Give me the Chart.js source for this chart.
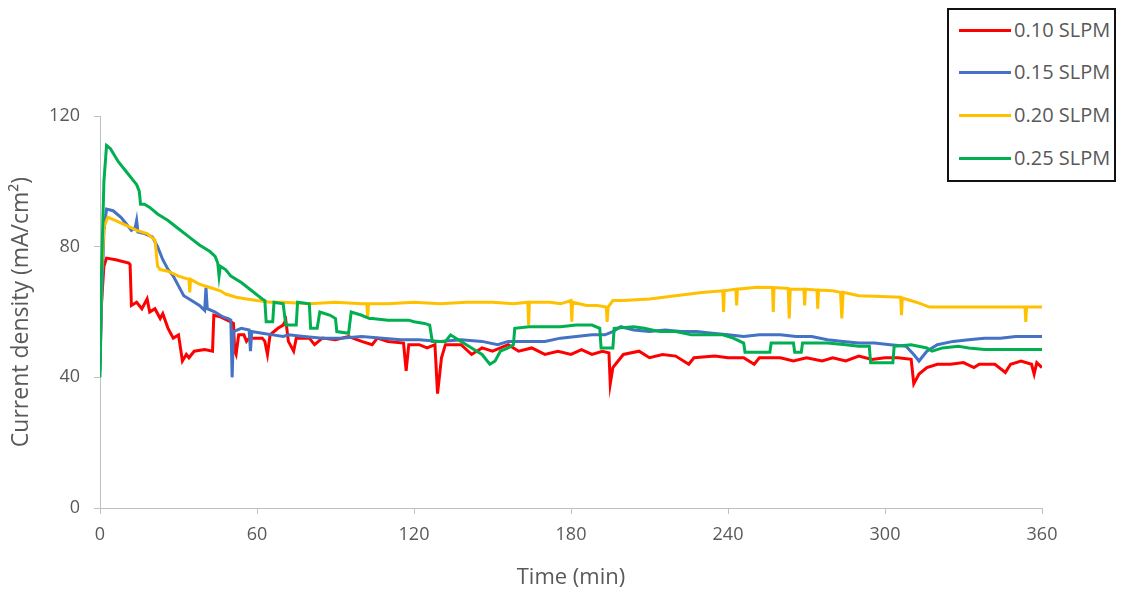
<!DOCTYPE html>
<html>
<head>
<meta charset="utf-8">
<script src="https://cdn.jsdelivr.net/npm/chart.js@4"></script>
<style>
  html, body { margin: 0; padding: 0; background: #fff; }
  #wrap { position: relative; width: 1127px; height: 599px; }
  #legend {
    position: absolute; left: 947px; top: 8px; width: 169px; height: 174px;
    border: 2px solid #111; background: #fff; box-sizing: border-box;
    font-family: "Open Sans", sans-serif; font-size: 20px; color: #595959;
  }
  #legend .row { position: absolute; left: 10px; height: 24px; line-height: 24px; white-space: nowrap; }
  #legend .sw { display: inline-block; width: 52px; height: 3px; vertical-align: middle; margin-right: 3px; position: relative; top: -1px; }
</style>
</head>
<body>
<div id="wrap">
  <canvas id="c" width="1127" height="599"></canvas>
  <div id="legend"></div>
</div>
<script>
// data (time in min, current density in mA/cm2)
const labels = ['0.10 SLPM', '0.15 SLPM', '0.20 SLPM', '0.25 SLPM'];
const colors = ['#ff0000', '#4472c4', '#ffc000', '#00b050'];
const xTicks = [0, 60, 120, 180, 240, 300, 360];
const yTicks = [0, 40, 80, 120];

const redT = [0,0.5,1.5,2.5,6,11,11.5,12,14,16,18,19,21,23,24,26,28,30,31.5,33,34,36,40,43,43.5,46,50,51,51.5,52,53,55,56,57,62,63,64,65,68,70,71,72,74,75,80,82,85,90,95,100,104,106,110,116,117,118,122,125,128,129,130.5,132,138,142,146,150,156,160,165,170,175,180,184,188,192,194.5,195,196,198,200,206,210,215,220,225,227,235,240,246,250,252,260,265,270,276,280,285,290,295,300,305,310,311,313,316,320,325,330,334,336,342,346,348,352,356,357,358,360];
const redV = [44,62,74,76.5,76,75,74.5,62,63,61,64,60,61,58,59.5,55,52,53,45,47,46,48,48.5,48,59,58.5,57,56.5,48,47,53,53,51,52,52,51,47,53,55,56,57.5,51,48,52,52,50,52,51.5,52.5,51,50,52,51,50.5,42,50,50,49,50,35,46,50,50,47,49,48,50,48,49,47,48,47,48.5,47,48,47.5,38,43,45,47,48,46,47,46.5,44,46,46.5,46,46,44,46,46,45,46,45,46,45,46.5,45.5,46,46,45.5,38,41,43,44,44,44.5,43,44,44,41.5,44,45,44,41,44.5,43];

const blueT = [0,0.5,1.5,2.5,5,8,10,12,13.5,14,14.5,17,20,22,24,26,28,30,32,35,38,40,40.5,41,44,47,49,50,50.5,51,54,57,57.5,58,62,66,70,72,78,85,92,100,108,115,122,130,138,146,152,156,164,170,176,182,188,193,196,199,204,210,216,222,228,234,240,246,252,260,266,272,278,284,290,296,302,308,311,313,316,320,326,332,338,344,350,356,360];
const blueV = [42,60,85,91.5,91,89,87,85,86,88,84.5,84,83,80,76,73,71,68,65,63.5,62,60.5,67.5,61,60,58.5,58,57.5,40,54,55,54.5,48,54,53.5,53,52.5,53,52.5,52,52,52.5,52,51.5,51.5,51,51.5,51,50,51,51,51,52,52.5,53,53,54,55.5,54.5,54,54.5,54,54,53.5,53,52.5,53,53,52.5,52.5,51.5,51,50.5,50.5,50,49.5,47,45,48,50,51,51.5,52,52,52.5,52.5,52.5];

const yellowT = [0,0.5,1.5,3,6,10,14,18,21,22,23,26,30,34,34.3,34.6,38,42,46,48,52,56,60,65,70,80,90,100,102,102.3,102.6,110,120,130,140,150,158,163.5,163.8,164.1,172,176,180,180.3,180.6,186,190,193.5,193.8,194.2,196,200,210,220,230,238,238.3,238.6,243,243.3,243.6,251,257,257.3,257.6,263,263.4,263.8,269,269.3,269.6,274,274.3,274.6,280,283,283.5,284,290,296,306,306.3,306.6,312,317,330,340,350,353.5,353.8,354.1,360];
const yellowV = [48,70,86,89,88,86.5,85,84,82,74,73,72.5,71,70,66,70,68.5,67.5,66.5,65.5,64.5,64,63.5,63,63,62.5,63,62.5,62.5,58,62.5,62.5,63,62.5,63,63,62.5,63,56,63,63,62.5,63.5,57,63,62,62,61.5,57,61.5,63.5,63.5,64,65,66,66.5,60,66.5,67,62,67,67.6,67.5,60,67.5,67.2,58,67,67,62,67,66.7,61,66.7,66.5,66,58,66,65,64.8,64.5,59,64.3,63,61.5,61.5,61.5,61.5,61.5,57,61.5,61.5];

const greenT = [0,0.5,1.5,2.5,4,7,10,13,14,15,15.5,17,19,22,26,30,34,38,42,44,45,45.5,46,48,50,54,58,62,63,63.5,66,66.5,70,71,75,75.5,80,80.5,83,84,88,90,90.5,95,96,100,103,104,110,118,120,124,126,127,132,134,138,142,146,149,151,153,156,158,158.5,164,170,176,182,188,191,191.5,196,196.5,204,208,214,220,226,232,238,242,246,246.5,256,256.5,262,265,265.5,268,268.5,272,278,285,290,294,294.5,303,303.5,310,316,318,322,328,332,338,346,352,360];
const greenV = [40,70,100,111,110,106,103,100,99,97,93,93,92,90,88,85.5,83,80.5,78.5,77,75,71,74,73,71,69,66.5,64,63.5,57,57,63,62.5,56,56,63,62.5,55,55,60,59,58,54,53.5,60,59,58,58,57.5,57.5,57,56.5,56,51,51,53,51,49,47,44,45,48,49,50,55,55.5,55.5,55.5,56,56,55,49,49,55,55.5,55,54,54,53,53,53,52,50.5,47.7,47.7,50.5,50.5,50.5,47.7,47.7,50.5,50.5,50.5,50,49.5,49.5,44.5,44.5,49.5,50,49,48,49,49.5,49,48.5,48.5,48.5,48.5];

const seriesT = [redT, blueT, yellowT, greenT];
const seriesV = [redV, blueV, yellowV, greenV];

const fontFam = '"Open Sans", sans-serif';
const axisGrey = '#bfbfbf';
const textGrey = '#595959';

const datasets = labels.map((lab, i) => ({
  label: lab,
  data: seriesT[i].map((t, k) => ({ x: t, y: seriesV[i][k] })),
  borderColor: colors[i],
  backgroundColor: colors[i],
  borderWidth: 3,
  pointRadius: 0,
  tension: 0,
  fill: false,
  order: 4 - i   // later series on top, like the source
}));

new Chart(document.getElementById('c'), {
  type: 'line',
  data: { datasets },
  options: {
    responsive: false,
    animation: false,
    layout: { padding: { left: 4, top: 116, right: 85, bottom: 8 } },
    plugins: { legend: { display: false }, tooltip: { enabled: false } },
    scales: {
      x: {
        type: 'linear',
        min: 0, max: 360,
        afterBuildTicks: s => { s.ticks = xTicks.map(v => ({ value: v })); },
        afterFit: s => { s.height = 83; },
        grid: { drawOnChartArea: false, drawTicks: true, tickLength: 6, color: axisGrey },
        border: { display: true, color: axisGrey, width: 1 },
        ticks: { color: textGrey, font: { family: fontFam, size: 18 }, padding: 10, maxRotation: 0 },
        title: { display: true, text: 'Time (min)', color: textGrey, font: { family: fontFam, size: 22 }, padding: 0 }
      },
      y: {
        min: 0, max: 120,
        afterBuildTicks: s => { s.ticks = yTicks.map(v => ({ value: v })); },
        afterFit: s => { s.width = 96; },
        grid: { drawOnChartArea: false, drawTicks: true, tickLength: 6, color: axisGrey },
        border: { display: true, color: axisGrey, width: 1 },
        ticks: { color: textGrey, font: { family: fontFam, size: 18 }, padding: 14 },
        title: { display: true, text: 'Current density (mA/cm²)', color: textGrey, font: { family: fontFam, size: 23 }, padding: 4 }
      }
    }
  }
});

// legend box built from the same labels/colours
const legendEl = document.getElementById('legend');
const rowTops = [8, 50, 93, 136];
labels.forEach((lab, i) => {
  const row = document.createElement('div');
  row.className = 'row';
  row.style.top = rowTops[i] + 'px';
  row.innerHTML = `<span class="sw" style="background:${colors[i]}"></span>${lab}`;
  legendEl.appendChild(row);
});
</script>
</body>
</html>
